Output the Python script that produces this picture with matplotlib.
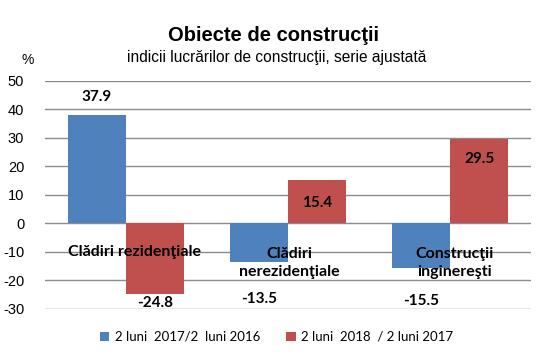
import numpy as np
import matplotlib.pyplot as plt

plt.rcParams['axes.unicode_minus'] = False

categories = ['Clădiri rezidenţiale', 'Clădiri\nnerezidenţiale', 'Construcţii\ninginereşti']
series_2017 = [37.9, -13.5, -15.5]
series_2018 = [-24.8, 15.4, 29.5]
legend_labels = ['2 luni  2017/2  luni 2016', '2 luni  2018  / 2 luni 2017']
yticks = [-30, -20, -10, 0, 10, 20, 30, 40, 50]

blue = '#4F81BD'
red = '#C0504D'

fig = plt.figure(figsize=(5.42, 3.58), dpi=100)
ax = fig.add_axes([0.083, 0.137, 0.897, 0.637])

x = np.arange(len(categories))
w = 0.36
b1 = ax.bar(x - w / 2, series_2017, w, color=blue, label=legend_labels[0], zorder=2)
b2 = ax.bar(x + w / 2, series_2018, w, color=red, label=legend_labels[1], zorder=2)

ax.set_xlim(-0.5, 2.5)
ax.set_ylim(-30, 50)
ax.set_yticks(yticks)
ax.set_xticks([])
ax.yaxis.grid(True, color='#8c8c8c', linewidth=1)
ax.set_axisbelow(True)
for s in ax.spines.values():
    s.set_visible(False)
ax.tick_params(axis='y', length=0, pad=15, labelsize=10.5)
for t in ax.get_yticklabels():
    t.set_fontfamily('Liberation Sans')

lab_font = dict(family='Lato', weight='bold', fontsize=11, color='black',
                ha='center', va='center', zorder=3)

# value labels: placement of each label (in data units)
pos_2017 = [44.3, -26.5, -27.2]
pos_2018 = [-27.9, 7.1, 22.6]
for i in range(len(categories)):
    ax.text(x[i] - w / 2, pos_2017[i], f'{series_2017[i]:.1f}', **lab_font)
    ax.text(x[i] + w / 2, pos_2018[i], f'{series_2018[i]:.1f}', **lab_font)

# category labels inside plot
cat_x = [0.05, 1.01, 2.03]
for i, c in enumerate(categories):
    ax.text(cat_x[i], -13.8 if '\n' in c else -9.9, c, family='Lato', weight='bold',
            fontsize=11.5, ha='center', va='center', linespacing=1.4, zorder=3)

fig.text(0.504, 0.9, 'Obiecte de construcţii', family='Liberation Sans',
         weight='bold', fontsize=14.5, ha='center', va='center')
fig.text(0.511, 0.838, 'indicii lucrărilor de construcţii, serie ajustată',
         family='Liberation Sans', fontsize=11.2, ha='center', va='center')
fig.text(0.051, 0.832, '%', family='Liberation Sans', fontsize=10,
         ha='center', va='center')

leg = fig.legend(handles=[b1, b2], loc='center', bbox_to_anchor=(0.51, 0.059),
                 ncol=2, frameon=False, prop={'family': 'Lato', 'size': 9.5},
                 handlelength=0.7, handleheight=0.7, handletextpad=0.4,
                 columnspacing=2.0)

fig.savefig('out.png', dpi=100)
